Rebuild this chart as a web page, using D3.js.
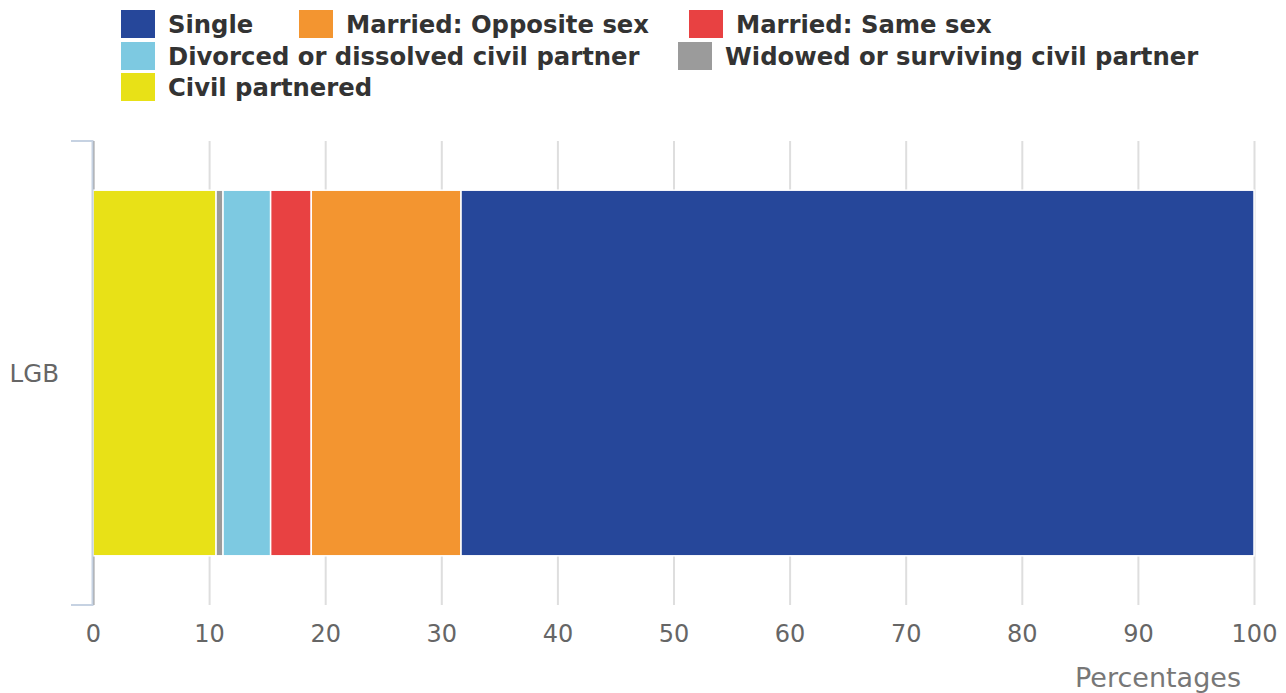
<!DOCTYPE html>
<html>
<head>
<meta charset="utf-8">
<script src="https://cdn.jsdelivr.net/npm/d3@7"></script>
<style>
  html, body { margin: 0; padding: 0; background: #fff; }
  svg { display: block; font-family: "DejaVu Sans", sans-serif; }
</style>
</head>
<body>
<svg id="chart" width="1286" height="693"></svg>
<script>
// Marital status of the LGB population, percentages (stacked left to right)
const categories = ["LGB"];
const seriesNames = [
  "Civil partnered",
  "Widowed or surviving civil partner",
  "Divorced or dissolved civil partner",
  "Married: Same sex",
  "Married: Opposite sex",
  "Single"
];
const seriesValues = [10.6, 0.6, 4.1, 3.5, 12.9, 68.3];
const seriesColors = ["#e8e117", "#9b9b9b", "#7dc9e1", "#e84142", "#f39530", "#26479a"];
const xTicks = [0, 10, 20, 30, 40, 50, 60, 70, 80, 90, 100];
const xTitle = "Percentages";

// Legend lists series in reverse stacking order
const legendOrder = ["Single", "Married: Opposite sex", "Married: Same sex",
  "Divorced or dissolved civil partner", "Widowed or surviving civil partner",
  "Civil partnered"];
const legendPos = [[121, 0], [299, 0], [689, 0], [121, 1], [678, 1], [121, 2]];

const svg = d3.select("#chart");
const plot = { left: 93, right: 1254, top: 141, bottom: 605 };

const x = d3.scaleLinear().domain([0, 100]).range([plot.left, plot.right]);
const y = d3.scaleBand().domain(categories).range([plot.top, plot.bottom]).padding(0);

// Vertical grid lines
svg.append("g")
  .selectAll("line")
  .data(xTicks)
  .join("line")
  .attr("x1", d => x(d) + 0.5).attr("x2", d => x(d) + 0.5)
  .attr("y1", plot.top).attr("y2", plot.bottom)
  .attr("stroke", d => d === 0 ? "#9a9a9a" : "#dedede")
  .attr("stroke-width", 2);

// Stacked bar segments
const stackData = categories.map(c => {
  const row = { category: c };
  seriesNames.forEach((s, i) => row[s] = seriesValues[i]);
  return row;
});
const stack = d3.stack().keys(seriesNames)(stackData);
const inset = 0.106;

svg.append("g")
  .selectAll("g")
  .data(stack)
  .join("g")
  .attr("fill", (d, i) => seriesColors[i])
  .selectAll("rect")
  .data(d => d)
  .join("rect")
  .attr("x", d => x(d[0]))
  .attr("width", d => x(d[1]) - x(d[0]))
  .attr("y", d => y(d.data.category) + y.bandwidth() * inset)
  .attr("height", y.bandwidth() * (1 - 2 * inset))
  .attr("stroke", "#ffffff")
  .attr("stroke-width", 1.5);

// Category axis with bracket ticks at band edges
const yAxis = svg.append("g");
yAxis.append("line")
  .attr("x1", plot.left - 0.5).attr("x2", plot.left - 0.5)
  .attr("y1", plot.top - 1).attr("y2", plot.bottom + 1)
  .attr("stroke", "#c6d2e2").attr("stroke-width", 2);
[plot.top, plot.bottom].forEach(v => {
  yAxis.append("line")
    .attr("x1", 71).attr("x2", plot.left)
    .attr("y1", v).attr("y2", v)
    .attr("stroke", "#c6d2e2").attr("stroke-width", 2);
});
yAxis.selectAll("text")
  .data(categories)
  .join("text")
  .attr("x", 59)
  .attr("y", d => y(d) + y.bandwidth() / 2)
  .attr("dy", "0.35em")
  .attr("text-anchor", "end")
  .attr("font-size", 24.5)
  .attr("fill", "#666")
  .text(d => d);

// Value axis labels
const xAxis = svg.append("g")
  .attr("transform", `translate(0,${plot.bottom})`)
  .call(d3.axisBottom(x).tickValues(xTicks).tickSize(0).tickPadding(20));
xAxis.select(".domain").remove();
xAxis.selectAll("text")
  .attr("font-family", "DejaVu Sans, sans-serif")
  .attr("font-size", 24)
  .attr("fill", "#666");

svg.append("text")
  .attr("x", 1241)
  .attr("y", 687)
  .attr("text-anchor", "end")
  .attr("font-size", 27)
  .attr("fill", "#777")
  .text(xTitle);

// Legend
const rowY = [24, 56, 87];
const legend = svg.append("g")
  .selectAll("g")
  .data(legendOrder)
  .join("g")
  .attr("transform", (d, i) => `translate(${legendPos[i][0]},${rowY[legendPos[i][1]]})`);
legend.append("rect")
  .attr("x", 0).attr("y", -14)
  .attr("width", 34).attr("height", 28)
  .attr("fill", d => seriesColors[seriesNames.indexOf(d)]);
legend.append("text")
  .attr("x", 47)
  .attr("y", 0)
  .attr("dy", "0.36em")
  .attr("font-size", 24.3)
  .attr("font-weight", "bold")
  .attr("fill", "#333")
  .text(d => d);
</script>
</body>
</html>
